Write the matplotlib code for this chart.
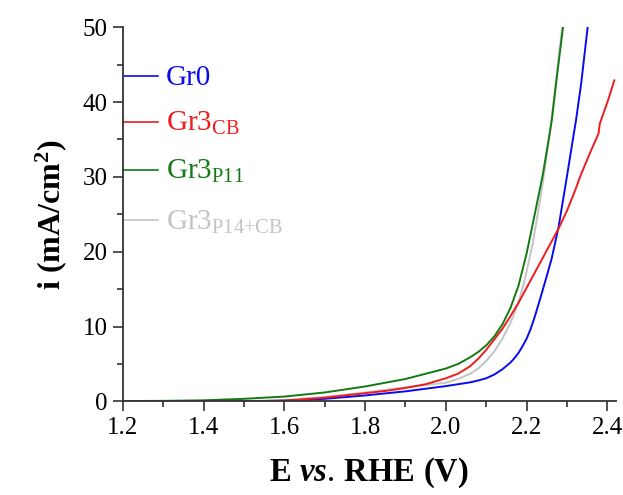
import matplotlib
matplotlib.use("Agg")
import matplotlib.pyplot as plt
from matplotlib.ticker import MultipleLocator, FormatStrFormatter

plt.rcParams['font.family'] = 'serif'
plt.rcParams['font.serif'] = ['Liberation Serif', 'DejaVu Serif']
plt.rcParams['mathtext.fontset'] = 'custom'
plt.rcParams['mathtext.rm'] = 'Liberation Serif'
plt.rcParams['mathtext.it'] = 'Liberation Serif:italic:bold'
plt.rcParams['mathtext.bf'] = 'Liberation Serif:bold'

# polarisation curves, current density (mA/cm2) vs potential (V vs RHE)
e_gr0 = [1.20, 1.40, 1.50, 1.60, 1.70, 1.80, 1.90, 1.95, 2.00, 2.03, 2.06, 2.08, 2.10,
         2.12, 2.14, 2.16, 2.17, 2.18, 2.19, 2.20, 2.21, 2.22, 2.235, 2.25, 2.262, 2.279,
         2.298, 2.318, 2.322, 2.335, 2.351]
i_gr0 = [0.0, 0.0, 0.02, 0.1, 0.35, 0.8, 1.35, 1.7, 2.05, 2.3, 2.55, 2.8, 3.1,
         3.6, 4.3, 5.2, 5.8, 6.5, 7.4, 8.4, 9.7, 11.3, 14.0, 16.8, 19.1, 23.3,
         29.5, 36.2, 37.5, 42.5, 50.0]

e_cb = [1.20, 1.40, 1.50, 1.60, 1.70, 1.80, 1.85, 1.90, 1.95, 2.00, 2.03, 2.06, 2.08,
        2.10, 2.12, 2.14, 2.16, 2.18, 2.20, 2.22, 2.24, 2.26, 2.28, 2.30, 2.32, 2.335,
        2.36, 2.378, 2.381, 2.40, 2.417]
i_cb = [0.0, 0.0, 0.02, 0.1, 0.5, 1.1, 1.4, 1.8, 2.3, 3.1, 3.7, 4.7, 5.7,
        6.9, 8.3, 9.7, 11.4, 13.2, 15.2, 17.2, 19.2, 21.2, 23.2, 25.5, 28.2, 30.4,
        33.6, 35.8, 37.1, 40.0, 42.9]

e_p11 = [1.20, 1.30, 1.40, 1.50, 1.60, 1.70, 1.80, 1.85, 1.90, 1.95, 2.00, 2.03, 2.06,
         2.08, 2.10, 2.12, 2.14, 2.16, 2.18, 2.20, 2.22, 2.24, 2.256, 2.262, 2.275, 2.29]
i_p11 = [0.05, 0.08, 0.15, 0.35, 0.65, 1.2, 2.0, 2.5, 3.0, 3.7, 4.4, 5.0, 5.9,
         6.6, 7.5, 8.7, 10.3, 12.5, 15.5, 19.8, 25.0, 30.3, 35.5, 37.5, 43.5, 50.0]

e_p14 = [1.20, 1.40, 1.50, 1.60, 1.70, 1.80, 1.90, 2.00, 2.03, 2.06, 2.08, 2.10, 2.12,
         2.14, 2.16, 2.17, 2.18, 2.195, 2.215, 2.235, 2.25, 2.258, 2.27, 2.288]
i_p14 = [0.0, 0.0, 0.03, 0.2, 0.6, 1.2, 1.9, 2.5, 3.0, 3.7, 4.4, 5.4, 6.7,
         8.4, 10.5, 11.8, 13.3, 16.2, 21.1, 27.5, 33.0, 36.0, 41.5, 50.0]

names = ['Gr0', r'Gr3$_{\mathrm{CB}}$', r'Gr3$_{\mathrm{P11}}$', r'Gr3$_{\mathrm{P14{+}CB}}$']
line_colors = ['#0a0aee', '#ee1c1c', '#137a13', '#c4c4c4']
key_y = [43.5, 37.3, 30.9, 24.2]

fig, ax = plt.subplots(figsize=(6.23, 4.95), dpi=100)
fig.subplots_adjust(left=0.197, right=0.988, bottom=0.189, top=0.945)

series = [(e_gr0, i_gr0), (e_cb, i_cb), (e_p11, i_p11), (e_p14, i_p14)]
# grey first so the others sit on top of it
for k in [3, 0, 1, 2]:
    ax.plot(series[k][0], series[k][1], color=line_colors[k], lw=1.4)

# key: short line segment + coloured name
for k in range(4):
    ax.plot([1.2, 1.287], [key_y[k], key_y[k]], color=line_colors[k], lw=1.2, clip_on=False)
    ax.text(1.307, key_y[k] - 1.2, names[k], color=line_colors[k], fontsize=21,
            va='baseline', ha='left')

ax.set_xlim(1.2, 2.42)
ax.set_ylim(0, 50)
ax.xaxis.set_major_locator(MultipleLocator(0.2))
ax.xaxis.set_minor_locator(MultipleLocator(0.1))
ax.yaxis.set_major_locator(MultipleLocator(10))
ax.yaxis.set_minor_locator(MultipleLocator(5))
ax.xaxis.set_major_formatter(FormatStrFormatter('%.1f'))

for s in ['top', 'right']:
    ax.spines[s].set_visible(False)
for s in ['left', 'bottom']:
    ax.spines[s].set_color('#333333')
    ax.spines[s].set_linewidth(1.3)

ax.tick_params(which='major', direction='out', length=7, width=1.2, color='#333333',
               labelsize=18, pad=4)
ax.tick_params(which='minor', direction='out', length=4, width=1.2, color='#333333')

ax.set_xlabel(r'$\mathbf{E\ }\mathit{vs.}\mathbf{\,RHE\ (V)}$', fontsize=23.5, labelpad=12)
ax.set_ylabel(r'$\mathbf{i\ (mA/cm^{2})}$', fontsize=23, labelpad=10)

fig.savefig('out.png', dpi=100)
